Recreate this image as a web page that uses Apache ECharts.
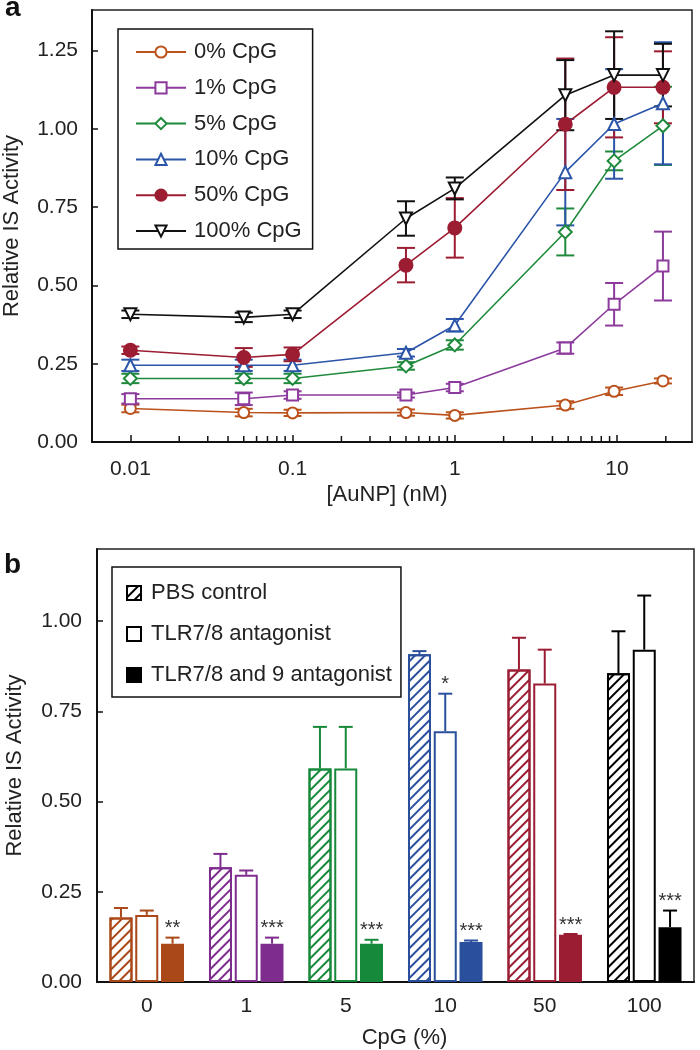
<!DOCTYPE html>
<html>
<head>
<meta charset="utf-8">
<script src="https://cdn.jsdelivr.net/npm/echarts@6/dist/echarts.min.js"></script>
<style>
html,body{margin:0;padding:0;background:#fff;}
#c{width:700px;height:1050px;}
</style>
</head>
<body>
<div id="c"></div>
<script>
// ---------------- Panel a data ----------------
const concNM = [0.01, 0.05, 0.1, 0.5, 1, 4.8, 9.6, 19.2];
const seriesNamesA = ['0% CpG', '1% CpG', '5% CpG', '10% CpG', '50% CpG', '100% CpG'];
const cpg0   = [0.107, 0.094, 0.093, 0.094, 0.085, 0.118, 0.162, 0.195];
const err0   = [0.012, 0.012, 0.010, 0.010, 0.010, 0.012, 0.012, 0.008];
const cpg1   = [0.138, 0.138, 0.150, 0.150, 0.174, 0.300, 0.440, 0.562];
const err1   = [0.015, 0.020, 0.012, 0.008, 0.012, 0.018, 0.068, 0.110];
const cpg5   = [0.203, 0.203, 0.203, 0.243, 0.310, 0.671, 0.898, 1.010];
const err5   = [0.015, 0.015, 0.015, 0.012, 0.015, 0.075, 0.030, 0.125];
const cpg10  = [0.245, 0.245, 0.245, 0.285, 0.373, 0.862, 1.016, 1.082];
const err10  = [0.018, 0.018, 0.018, 0.012, 0.020, 0.170, 0.175, 0.195];
const cpg50  = [0.293, 0.270, 0.280, 0.565, 0.684, 1.015, 1.133, 1.133];
const err50  = [0.012, 0.030, 0.022, 0.055, 0.095, 0.210, 0.160, 0.115];
const cpg100 = [0.408, 0.398, 0.408, 0.714, 0.810, 1.108, 1.172, 1.172];
const err100 = [0.012, 0.015, 0.012, 0.055, 0.035, 0.112, 0.140, 0.100];
const aTickVals = [0.01, 0.1, 1, 10];
const aTickLabels = ['0.01', '0.1', '1', '10'];
const aMinorTicks = [0.02, 0.03, 0.04, 0.05, 0.06, 0.07, 0.08, 0.09,
                     0.2, 0.3, 0.4, 0.5, 0.6, 0.7, 0.8, 0.9,
                     2, 3, 4, 5, 6, 7, 8, 9, 20];

// ---------------- Panel b data ----------------
const cpgCats = ['0', '1', '5', '10', '50', '100'];
const barNames = ['PBS control', 'TLR7/8 antagonist', 'TLR7/8 and 9 antagonist'];
const pbs       = [0.179, 0.318, 0.592, 0.908, 0.866, 0.856];
const pbsErr    = [0.026, 0.037, 0.115, 0.009, 0.088, 0.116];
const tlr78     = [0.186, 0.297, 0.592, 0.695, 0.827, 0.921];
const tlr78Err  = [0.012, 0.012, 0.115, 0.104, 0.094, 0.150];
const tlr789    = [0.106, 0.106, 0.106, 0.111, 0.131, 0.152];
const tlr789Err = [0.017, 0.017, 0.011, 0.004, 0.002, 0.046];
const sigPbs    = ['', '', '', '', '', ''];
const sigTlr78  = ['', '', '', '*', '', ''];
const sigTlr789 = ['**', '***', '***', '***', '***', '***'];

// ---------------- styles ----------------
const FONT = '"Liberation Sans", Arial, sans-serif';
const TXT = '#222';
const lineColorsA = ['#bb521c', '#8c3a9c', '#1f8a3c', '#2b55a8', '#9c1c32', '#111111'];
const symbolsA = ['circle', 'rect', 'diamond', 'triangle', 'circle', 'triangle'];
const symbolRotA = [0, 0, 0, 0, 0, 180];
const symbolSizeA = [11, 11, 13, 12, 13, 12];
const filledA = [false, false, false, false, true, false];
const valuesA = [cpg0, cpg1, cpg5, cpg10, cpg50, cpg100];
const errorsA = [err0, err1, err5, err10, err50, err100];
const barColors = ['#aa4818', '#7e2d8e', '#17893a', '#2a4f9c', '#9a1d33', '#000000'];

function hatch(c) {
  return { symbol: 'rect', symbolSize: 1, dashArrayX: [1, 0], dashArrayY: [1.6, 5],
           rotation: -Math.PI / 4, color: c };
}

const series = [];

// minor ticks on the log axis
series.push({
  type: 'custom', xAxisIndex: 0, yAxisIndex: 0, silent: true, z: 5,
  data: aMinorTicks.map(v => [v, 0]),
  renderItem: (params, api) => {
    const p = api.coord([api.value(0), 0]);
    return { type: 'line', shape: { x1: p[0], y1: p[1], x2: p[0], y2: p[1] - 6 },
             style: { stroke: '#111', lineWidth: 1.5 } };
  }
});

valuesA.forEach((vals, k) => {
  const c = lineColorsA[k];
  const errs = errorsA[k];
  series.push({
    type: 'custom', name: seriesNamesA[k] + ' error', xAxisIndex: 0, yAxisIndex: 0,
    silent: true, z: 2,
    data: concNM.map((x, i) => [x, vals[i], errs[i]]),
    renderItem: (params, api) => {
      const x = api.value(0), v = api.value(1), e = api.value(2);
      const lo = api.coord([x, v - e]);
      const hi = api.coord([x, v + e]);
      const hw = 9;
      const st = { stroke: c, lineWidth: 2 };
      return { type: 'group', children: [
        { type: 'line', shape: { x1: lo[0], y1: lo[1], x2: hi[0], y2: hi[1] }, style: st },
        { type: 'line', shape: { x1: lo[0] - hw, y1: lo[1], x2: lo[0] + hw, y2: lo[1] }, style: st },
        { type: 'line', shape: { x1: hi[0] - hw, y1: hi[1], x2: hi[0] + hw, y2: hi[1] }, style: st }
      ]};
    }
  });
  series.push({
    type: 'line', name: seriesNamesA[k], xAxisIndex: 0, yAxisIndex: 0, z: 3,
    data: concNM.map((x, i) => [x, vals[i]]),
    symbol: symbolsA[k], symbolRotate: symbolRotA[k], symbolSize: symbolSizeA[k],
    showAllSymbol: true,
    itemStyle: { color: filledA[k] ? c : '#fff', borderColor: c, borderWidth: 2 },
    lineStyle: { color: c, width: 1.6 },
    emphasis: { disabled: true }
  });
});

// bars
const barVals = [pbs, tlr78, tlr789];
const barErrs = [pbsErr, tlr78Err, tlr789Err];
const barSigs = [sigPbs, sigTlr78, sigTlr789];
const BAR_W = 23, BAR_STEP = 25.8;

barVals.forEach((vals, k) => {
  let seriesStyle;
  if (k === 0) seriesStyle = { color: '#fff', borderColor: '#000', borderWidth: 2, decal: hatch('#000') };
  else if (k === 1) seriesStyle = { color: '#fff', borderColor: '#000', borderWidth: 2 };
  else seriesStyle = { color: '#000', borderColor: '#000', borderWidth: 2 };
  series.push({
    type: 'bar', name: barNames[k], xAxisIndex: 1, yAxisIndex: 1,
    barWidth: BAR_W, barGap: '12%',
    itemStyle: seriesStyle,
    emphasis: { disabled: true },
    data: vals.map((v, i) => {
      const c = barColors[i];
      let st;
      if (k === 0) st = { color: '#fff', borderColor: c, borderWidth: 2, decal: hatch(c) };
      else if (k === 1) st = { color: '#fff', borderColor: c, borderWidth: 2 };
      else st = { color: c, borderColor: c, borderWidth: 2 };
      return { value: v, itemStyle: st };
    })
  });
  const errs = barErrs[k], sigs = barSigs[k];
  series.push({
    type: 'custom', name: barNames[k] + ' error', xAxisIndex: 1, yAxisIndex: 1,
    silent: true, z: 4,
    data: vals.map((v, i) => [i, v, errs[i]]),
    renderItem: (params, api) => {
      const i = api.value(0), v = api.value(1), e = api.value(2);
      const base = api.coord([i, v]);
      const top = api.coord([i, v + e]);
      const x = base[0] + (k - 1) * BAR_STEP;
      const c = barColors[params.dataIndex];
      const st = { stroke: c, lineWidth: 2 };
      const hw = 7;
      const ch = [
        { type: 'line', shape: { x1: x, y1: base[1], x2: x, y2: top[1] }, style: st },
        { type: 'line', shape: { x1: x - hw, y1: top[1], x2: x + hw, y2: top[1] }, style: st }
      ];
      const s = sigs[params.dataIndex];
      if (s) {
        ch.push({ type: 'text', style: { text: s, x: x, y: top[1] + 1, align: 'center',
          verticalAlign: 'bottom', font: '20px ' + FONT, fill: '#333' } });
      }
      return { type: 'group', children: ch };
    }
  });
});

const option = {
  animation: false,
  backgroundColor: '#fff',
  textStyle: { fontFamily: FONT },
  title: [
    { text: 'a', left: 5, top: -6, padding: 0,
      textStyle: { fontSize: 28, fontWeight: 'bold', color: '#111', fontFamily: FONT } },
    { text: 'b', left: 4, top: 551, padding: 0,
      textStyle: { fontSize: 28, fontWeight: 'bold', color: '#111', fontFamily: FONT } }
  ],
  grid: [
    { left: 92, top: 10, right: 8, bottom: 608, containLabel: false, outerBoundsMode: 'none',
      show: true, borderColor: '#222', borderWidth: 1.5, backgroundColor: 'transparent' },
    { left: 97, top: 549, right: 6, bottom: 68, containLabel: false, outerBoundsMode: 'none',
      show: true, borderColor: '#222', borderWidth: 1.5, backgroundColor: 'transparent' }
  ],
  legend: [
    {
      data: seriesNamesA, orient: 'vertical', left: 118, top: 29,
      itemWidth: 50, itemHeight: 14, itemGap: 13.8,
      padding: [12, 11, 7, 17],
      borderColor: '#111', borderWidth: 1.5, backgroundColor: '#fff',
      selectedMode: false,
      textStyle: { fontFamily: FONT, fontSize: 22, color: TXT, lineHeight: 22, padding: [0, 0, 0, 3] }
    },
    {
      data: barNames, orient: 'vertical', left: 112, top: 567,
      itemWidth: 14, itemHeight: 14, itemGap: 19,
      icon: 'rect',
      padding: [15, 9, 11, 14],
      borderColor: '#111', borderWidth: 1.5, backgroundColor: '#fff',
      selectedMode: false,
      itemStyle: { borderWidth: 2 },
      textStyle: { fontFamily: FONT, fontSize: 22, color: TXT, lineHeight: 22, padding: [0, 0, 0, 5] }
    }
  ],
  xAxis: [
    {
      type: 'log', logBase: 10, gridIndex: 0, min: 0.0058, max: 29,
      name: '[AuNP] (nM)', nameLocation: 'middle', nameGap: 42,
      nameTextStyle: { fontFamily: FONT, fontSize: 22, color: TXT, padding: [0, 10, 0, 0] },
      axisLine: { show: true, lineStyle: { color: '#111', width: 2 } },
      axisTick: { show: true, inside: true, length: 7, lineStyle: { color: '#111', width: 1.5 } },
      axisLabel: {
        show: true, margin: 17, fontFamily: FONT, fontSize: 21, color: TXT,
        showMinLabel: false, showMaxLabel: false,
        formatter: v => {
          for (let i = 0; i < aTickVals.length; i++) {
            if (Math.abs(Math.log10(v) - Math.log10(aTickVals[i])) < 1e-6) return aTickLabels[i];
          }
          return '';
        }
      },
      splitLine: { show: false }, minorTick: { show: false }
    },
    {
      type: 'category', gridIndex: 1, data: cpgCats,
      name: 'CpG (%)', nameLocation: 'middle', nameGap: 45,
      nameTextStyle: { fontFamily: FONT, fontSize: 22, color: TXT, padding: [0, 0, 0, 18] },
      axisLine: { show: true, lineStyle: { color: '#111', width: 2 } },
      axisTick: { show: false },
      axisLabel: { margin: 14, fontFamily: FONT, fontSize: 21, color: TXT },
      splitLine: { show: false }
    }
  ],
  yAxis: [
    {
      type: 'value', gridIndex: 0, min: 0, max: 1.38, interval: 0.25,
      name: 'Relative IS Activity', nameLocation: 'middle', nameGap: 69,
      nameTextStyle: { fontFamily: FONT, fontSize: 22, color: TXT },
      axisLine: { show: true, lineStyle: { color: '#111', width: 2 } },
      axisTick: { show: true, inside: true, length: 6, lineStyle: { color: '#111', width: 1.5 } },
      axisLabel: { margin: 14, fontFamily: FONT, fontSize: 21, color: TXT, showMaxLabel: false,
                   formatter: v => v.toFixed(2) },
      splitLine: { show: false }
    },
    {
      type: 'value', gridIndex: 1, min: 0, max: 1.2, interval: 0.25,
      name: 'Relative IS Activity', nameLocation: 'middle', nameGap: 71,
      nameTextStyle: { fontFamily: FONT, fontSize: 22, color: TXT },
      axisLine: { show: true, lineStyle: { color: '#111', width: 2 } },
      axisTick: { show: true, inside: true, length: 6, lineStyle: { color: '#111', width: 1.5 } },
      axisLabel: { margin: 15, fontFamily: FONT, fontSize: 21, color: TXT, showMaxLabel: false,
                   formatter: v => v.toFixed(2) },
      splitLine: { show: false }
    }
  ],
  series: series
};

const chart = echarts.init(document.getElementById('c'));
chart.setOption(option);
</script>
</body>
</html>
